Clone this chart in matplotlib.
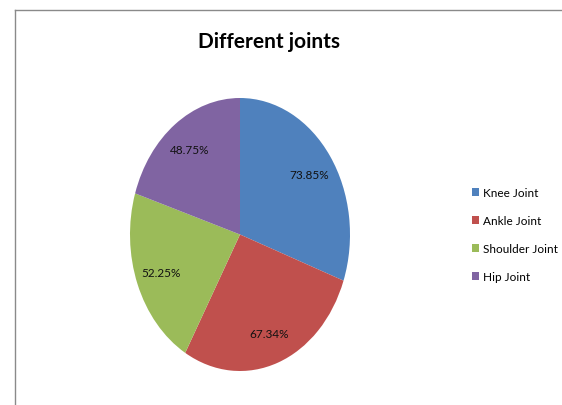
import matplotlib.pyplot as plt
from matplotlib.lines import Line2D
from matplotlib.patches import Patch

joints = ['Knee Joint', 'Ankle Joint', 'Shoulder Joint', 'Hip Joint']
values = [73.85, 67.34, 52.25, 48.75]
colors = ['#4F81BD', '#C0504D', '#9BBB59', '#8064A2']
value_labels = [f'{v:.2f}%' for v in values]

plt.rcParams['font.family'] = ['Lato', 'DejaVu Sans']

fig = plt.figure(figsize=(5.62, 4.06), dpi=100)
ax = fig.add_axes([130 / 562, 1 - 372 / 406, 220 / 562, 273 / 406])
ax.pie(values, labels=value_labels, colors=colors, startangle=90, counterclock=False,
       labeldistance=0.77, wedgeprops={'linewidth': 0},
       textprops={'ha': 'center', 'va': 'center', 'fontsize': 8.5, 'color': '#111111'})
ax.set_aspect('auto')
ax.set_xlim(-1, 1)
ax.set_ylim(-1, 1)

fig.text(268.5 / 562, 1 - 42 / 406, 'Different joints', ha='center', va='center',
         fontsize=15, fontweight='bold')

handles = [Patch(facecolor=c, edgecolor='none') for c in colors]
fig.legend(handles, joints, loc='center left', bbox_to_anchor=(467 / 562, 1 - 235.5 / 406),
           frameon=False, fontsize=8.5, handlelength=0.65, handleheight=0.65,
           handletextpad=0.3, labelspacing=1.45, borderaxespad=0)

# chart border (partly cut off in the original)
fig.add_artist(Line2D([14.5 / 562, 1], [1 - 10.5 / 406, 1 - 10.5 / 406], color='#8a8a8a', lw=1))
fig.add_artist(Line2D([14.5 / 562, 14.5 / 562], [0, 1 - 10.5 / 406], color='#8a8a8a', lw=1))

fig.savefig('out.png', dpi=100)
